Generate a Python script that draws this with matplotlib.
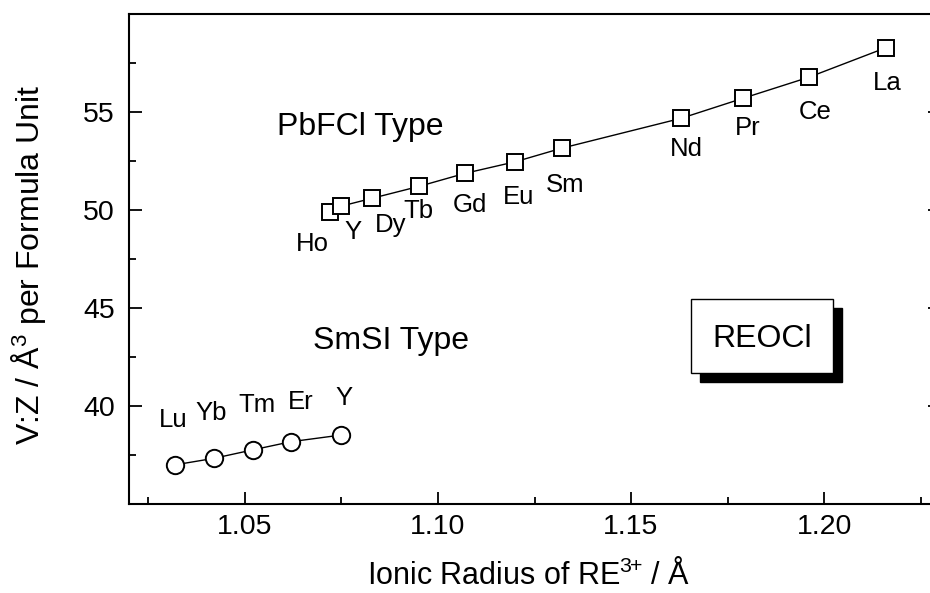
import numpy as np
import matplotlib
matplotlib.use("Agg")
import matplotlib.pyplot as plt
from matplotlib.patches import Rectangle

plt.rcParams['font.family'] = ['Liberation Sans', 'DejaVu Sans']
plt.rcParams['mathtext.fontset'] = 'custom'
plt.rcParams['mathtext.rm'] = 'Liberation Sans'
plt.rcParams['mathtext.it'] = 'Liberation Sans:italic'
plt.rcParams['mathtext.bf'] = 'Liberation Sans:bold'

# PbFCl type (squares)
pbfcl_names = ['Ho', 'Y', 'Dy', 'Tb', 'Gd', 'Eu', 'Sm', 'Nd', 'Pr', 'Ce', 'La']
pbfcl_radius = [1.072, 1.075, 1.083, 1.095, 1.107, 1.120, 1.132, 1.163, 1.179, 1.196, 1.216]
pbfcl_vz = [49.9, 50.2, 50.6, 51.2, 51.87, 52.46, 53.15, 54.68, 55.70, 56.77, 58.28]

# SmSI type (circles)
smsi_names = ['Lu', 'Yb', 'Tm', 'Er', 'Y']
smsi_radius = [1.032, 1.042, 1.052, 1.062, 1.075]
smsi_vz = [37.0, 37.33, 37.76, 38.18, 38.52]

# label offsets (pixels) relative to each marker
pbfcl_off = [(-17, -32), (12, -26), (18, -27), (0, -25), (5, -32), (3, -35),
             (4, -37), (5, -31), (5, -30), (6, -35), (1, -35)]
smsi_off = [(-2, 45), (-3, 45), (4, 45), (9, 40), (3, 37)]

fig = plt.figure(figsize=(9.3, 5.93), dpi=100)
# right spine lies just outside the picture, as in the cropped original
ax = fig.add_axes([129 / 930, 89 / 593, 811 / 930, 490 / 593])

ax.plot(pbfcl_radius, pbfcl_vz, '-', color='black', lw=1.0, zorder=2)
ax.plot(pbfcl_radius, pbfcl_vz, 's', ms=12, mfc='white', mec='black', mew=1.4,
        zorder=3, linestyle='none')
ax.plot(smsi_radius, smsi_vz, '-', color='black', lw=1.0, zorder=2)
ax.plot(smsi_radius, smsi_vz, 'o', ms=12.5, mfc='white', mec='black', mew=1.4,
        zorder=3, linestyle='none')

for name, x, y, off in zip(pbfcl_names, pbfcl_radius, pbfcl_vz, pbfcl_off):
    ax.annotate(name, (x, y), xytext=off, textcoords='offset pixels',
                ha='center', va='center', fontsize=18.5)
for name, x, y, off in zip(smsi_names, smsi_radius, smsi_vz, smsi_off):
    ax.annotate(name, (x, y), xytext=off, textcoords='offset pixels',
                ha='center', va='center', fontsize=18.5)

ax.text((277 - 129) / 811, (504 - 123) / 490, 'PbFCl Type', transform=ax.transAxes,
        fontsize=23, ha='left', va='center_baseline')
ax.text((313 - 129) / 811, (504 - 338) / 490, 'SmSI Type', transform=ax.transAxes,
        fontsize=23, ha='left', va='center_baseline')

# REOCl box with shadow
bx, by, bw, bh = 0.6926, 0.268, 0.1758, 0.150
ax.add_patch(Rectangle((bx + 0.0111, by - 0.0184), bw, bh, transform=ax.transAxes,
                       facecolor='black', edgecolor='black', zorder=4))
ax.add_patch(Rectangle((bx, by), bw, bh, transform=ax.transAxes,
                       facecolor='white', edgecolor='black', lw=1.0, zorder=5))
ax.text(bx + bw / 2, by + bh / 2, 'REOCl', transform=ax.transAxes, fontsize=23,
        ha='center', va='center_baseline', zorder=6)

ax.set_xlim(1.02, 1.23)
ax.set_ylim(35, 60)
ax.set_xticks([1.05, 1.10, 1.15, 1.20])
ax.set_xticklabels(['1.05', '1.10', '1.15', '1.20'])
ax.set_xticks(np.arange(1.025, 1.23, 0.05), minor=True)
ax.set_yticks([40, 45, 50, 55])
ax.set_yticks([37.5, 42.5, 47.5, 52.5, 57.5], minor=True)
ax.tick_params(which='both', direction='in', top=False, right=True,
               labelsize=20.5, width=1.3)
ax.tick_params(which='major', length=9)
ax.tick_params(which='minor', length=5)
ax.tick_params(axis='x', which='major', pad=7)
ax.tick_params(axis='y', which='major', pad=10)
for s in ax.spines.values():
    s.set_linewidth(1.5)

ax.set_xlabel('Ionic Radius of RE$^{3\\!\\!+}$$\\!$ / Å', fontsize=22)
ax.set_ylabel('V:Z / Å$^{3}$ per Formula Unit', fontsize=23)
ax.xaxis.set_label_coords((528 - 129) / 811, -0.112)
ax.yaxis.set_label_coords((48 - 129) / 811, (504 - 265) / 490)

fig.savefig('out.png', dpi=100)
